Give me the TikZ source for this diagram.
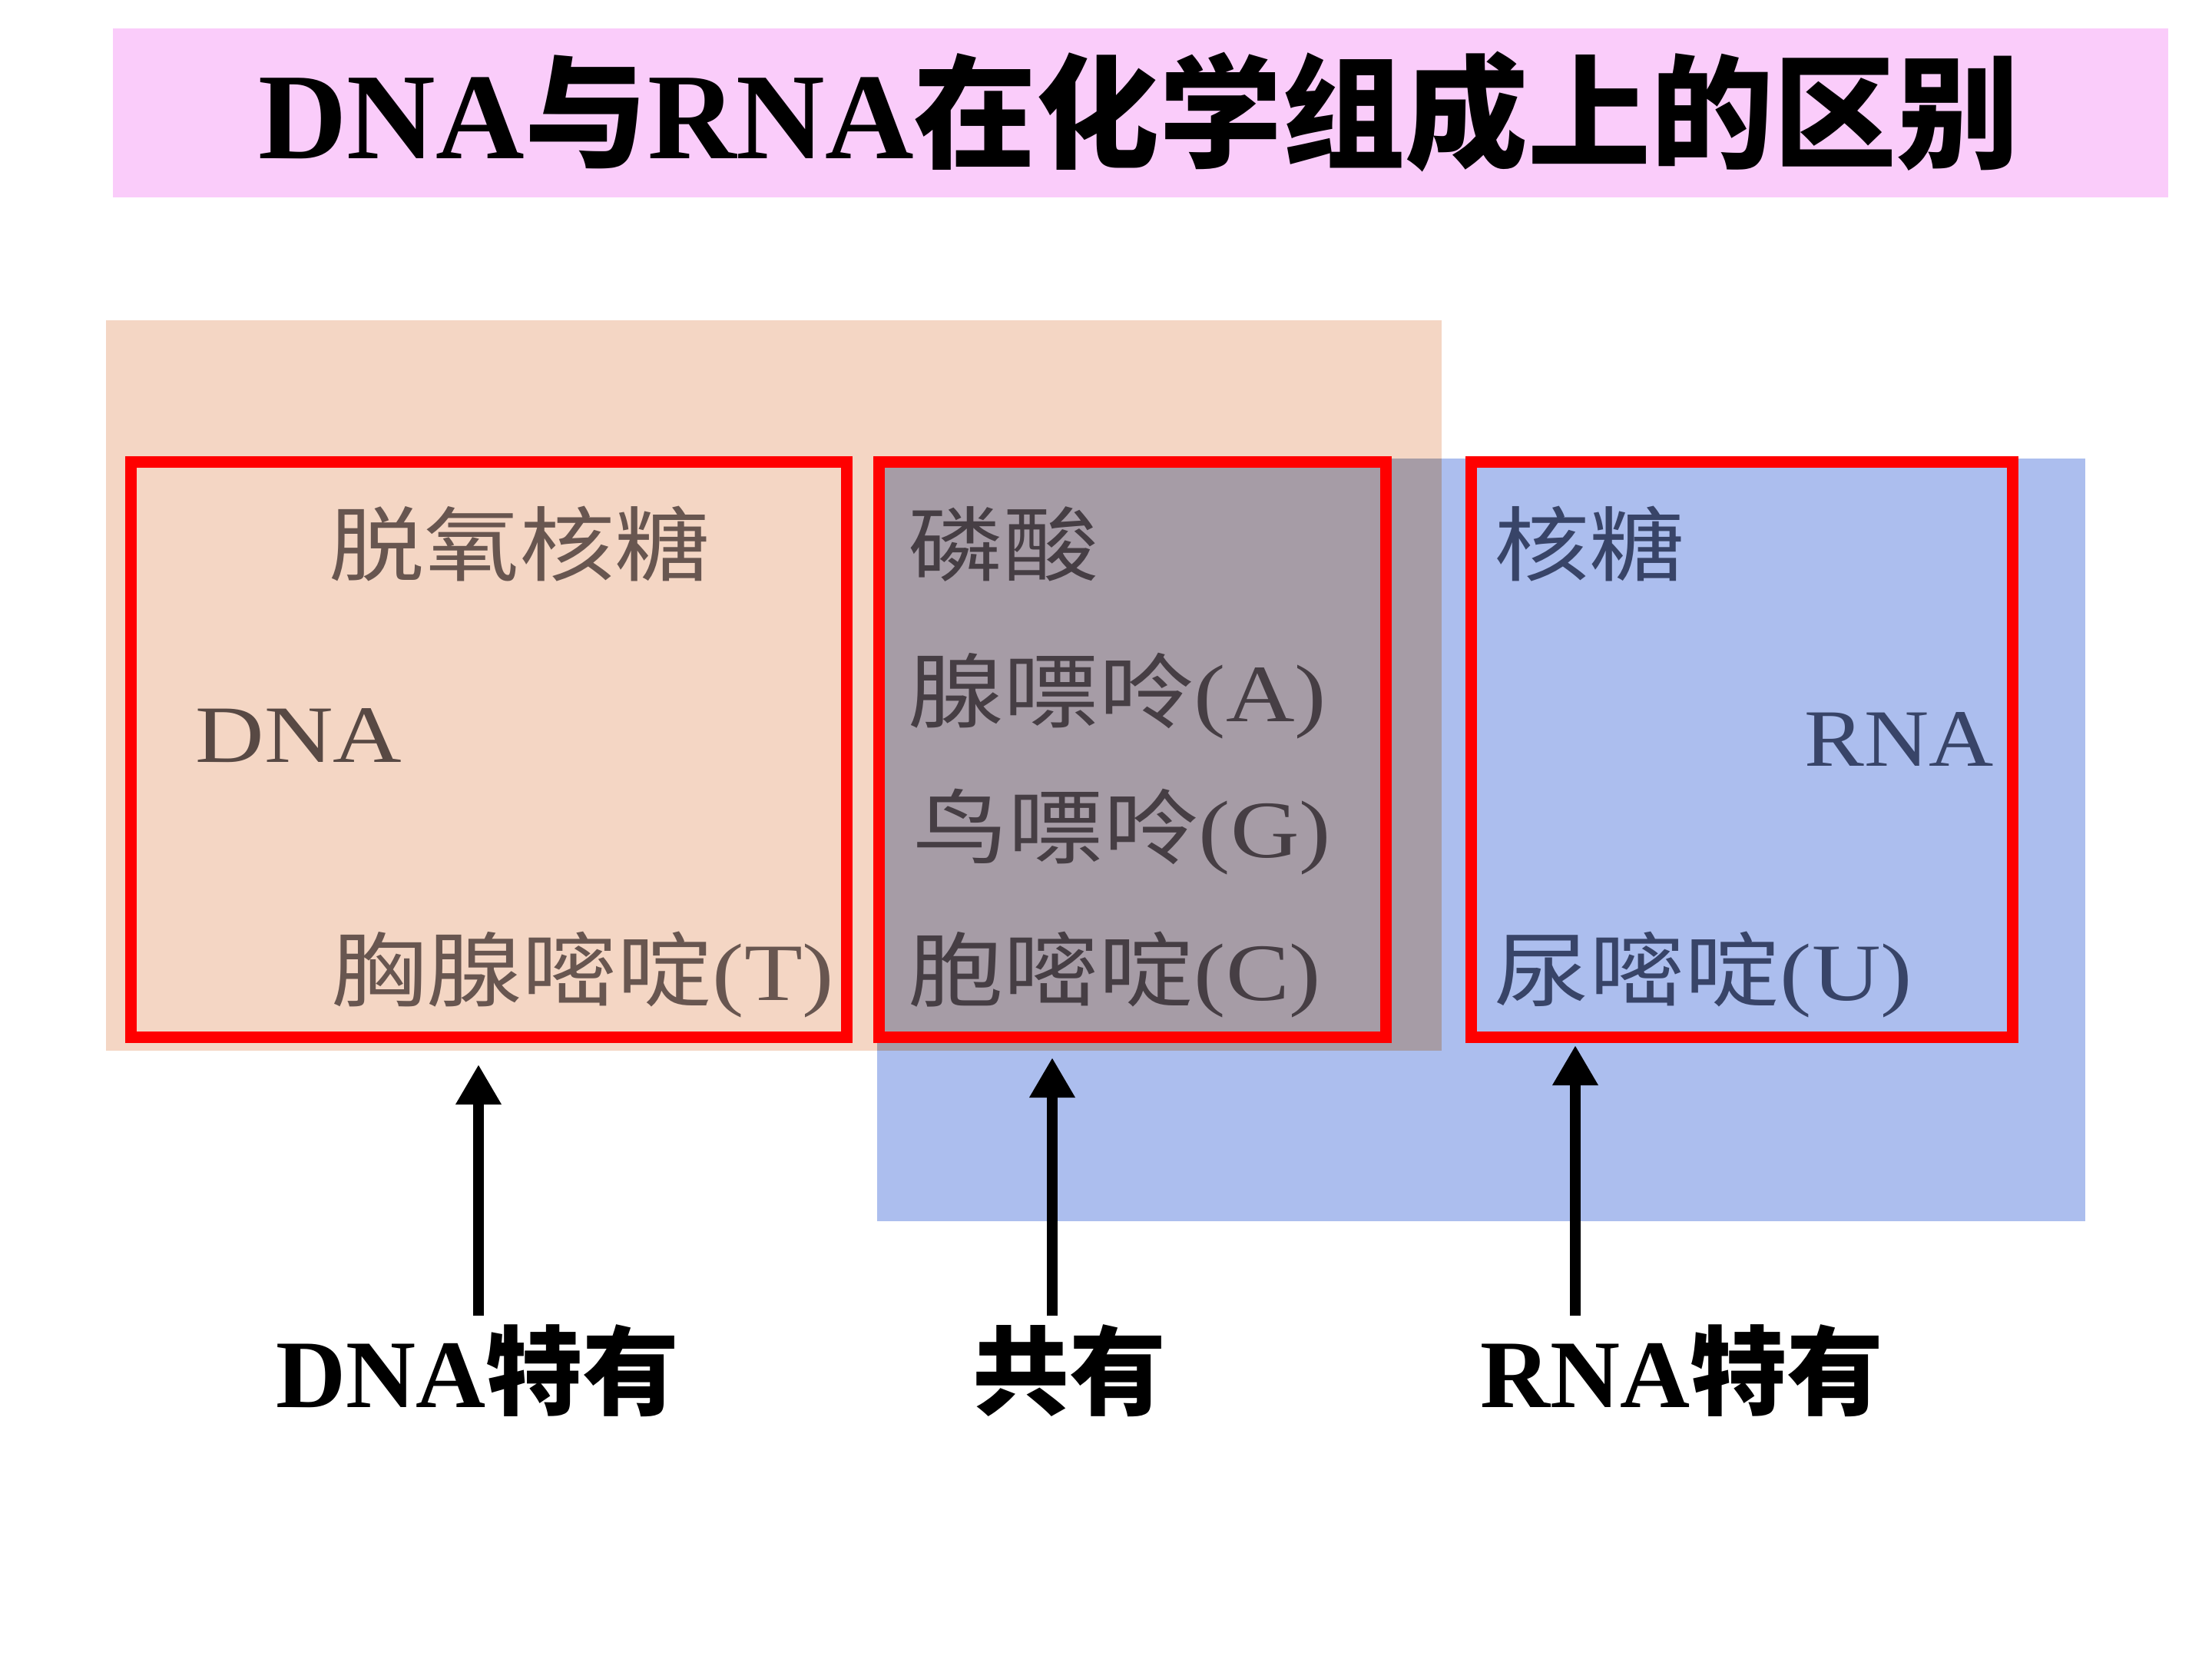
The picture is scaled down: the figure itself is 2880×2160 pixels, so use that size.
\documentclass[tikz,border=0pt]{standalone}
\usepackage{fontspec}
\usepackage{graphicx}
\setmainfont{Liberation Serif}
\newfontfamily\cjk{Noto Sans CJK SC}
\usetikzlibrary{arrows.meta}
\definecolor{titlepink}{RGB}{250,204,250}
\definecolor{peach}{RGB}{244,214,196}
\definecolor{lightblue}{RGB}{172,190,238}
\definecolor{overlapgrey}{RGB}{166,156,166}
\definecolor{boxred}{RGB}{255,0,0}
\definecolor{txtbrown}{RGB}{104,86,80}
\definecolor{txtgrey}{RGB}{70,62,68}
\definecolor{txtblue}{RGB}{56,68,104}
\newcommand{\wideT}[1]{\scalebox{1.17}[1]{#1}}
\newcommand{\wideL}[1]{\scalebox{1.1}[1]{#1}}
\tikzset{
  redbox/.style={draw=boxred, line width=3.75pt, inner sep=0pt, minimum height=187pt},
  intext/.style={anchor=base west, inner sep=0pt, font=\fontsize{26.5pt}{27pt}\selectfont},
  lab/.style={anchor=base, inner sep=0pt, font=\fontsize{31.5pt}{32pt}\selectfont\bfseries},
  arr/.style={line width=3.5pt, -{Triangle[length=13pt,width=14pt]}}
}
\begin{document}
\begin{tikzpicture}[x=0.25pt,y=-0.25pt]
\useasboundingbox[fill=white] (0,0) rectangle (2880,2160);
% title
\node[fill=titlepink, minimum width=669pt, minimum height=55pt, inner sep=0pt] (bar) at (1485,147) {};
\node[anchor=base, inner sep=0pt, font=\fontsize{40pt}{40pt}\selectfont\bfseries] (title) at (1483,207) {DNA{\cjk 与}RNA{\cjk 在化学组成上的区别}};
% backgrounds
\fill[peach] (138,417) rectangle (1877,1368);
\fill[lightblue] (1142,597) rectangle (2715,1590);
\fill[overlapgrey] (1142,597) rectangle (1877,1368);
% red boxes
\node[redbox, minimum width=233pt] (b1) at (636,976) {};
\node[redbox, minimum width=165pt] (b2) at (1474,976) {};
\node[redbox, minimum width=176.25pt] (b3) at (2268,976) {};
% box 1 texts
\node[intext, text=txtbrown] (t11) at (428,749) {\wideT{\cjk 脱氧核糖}};
\node[intext, text=txtbrown!85!black] (t12) at (254,992) {\wideT{DNA}};
\node[intext, text=txtbrown] (t13) at (431,1302) {\wideT{{\cjk 胸腺嘧啶}(T)}};
% box 2 texts
\node[intext, text=txtgrey] (t21) at (1182,749) {\wideT{\cjk 磷酸}};
\node[intext, text=txtgrey] (t22) at (1182,940) {\wideT{{\cjk 腺嘌呤}(A)}};
\node[intext, text=txtgrey] (t23) at (1188,1116) {\wideT{{\cjk 鸟嘌呤}(G)}};
\node[intext, text=txtgrey] (t24) at (1182,1302) {\wideT{{\cjk 胞嘧啶}(C)}};
% box 3 texts
\node[intext, text=txtblue] (t31) at (1945,749) {\wideT{\cjk 核糖}};
\node[intext, text=txtblue] (t32) at (2349,997) {\wideL{RNA}};
\node[intext, text=txtblue] (t33) at (1945,1302) {\wideT{{\cjk 尿嘧啶}(U)}};
% labels
\node[lab] (l1) at (622,1832) {DNA{\cjk 特有}};
\node[lab] (l2) at (1392,1832) {\cjk 共有};
\node[lab] (l3) at (2190,1832) {RNA{\cjk 特有}};
% arrows
\coordinate (a1s) at (623,1713); \coordinate (a1e) at (623,1386);
\coordinate (a2s) at (1370,1713); \coordinate (a2e) at (1370,1377);
\coordinate (a3s) at (2051,1713); \coordinate (a3e) at (2051,1361);
\draw[arr] (a1s) -- (a1e);
\draw[arr] (a2s) -- (a2e);
\draw[arr] (a3s) -- (a3e);
\end{tikzpicture}
\end{document}
